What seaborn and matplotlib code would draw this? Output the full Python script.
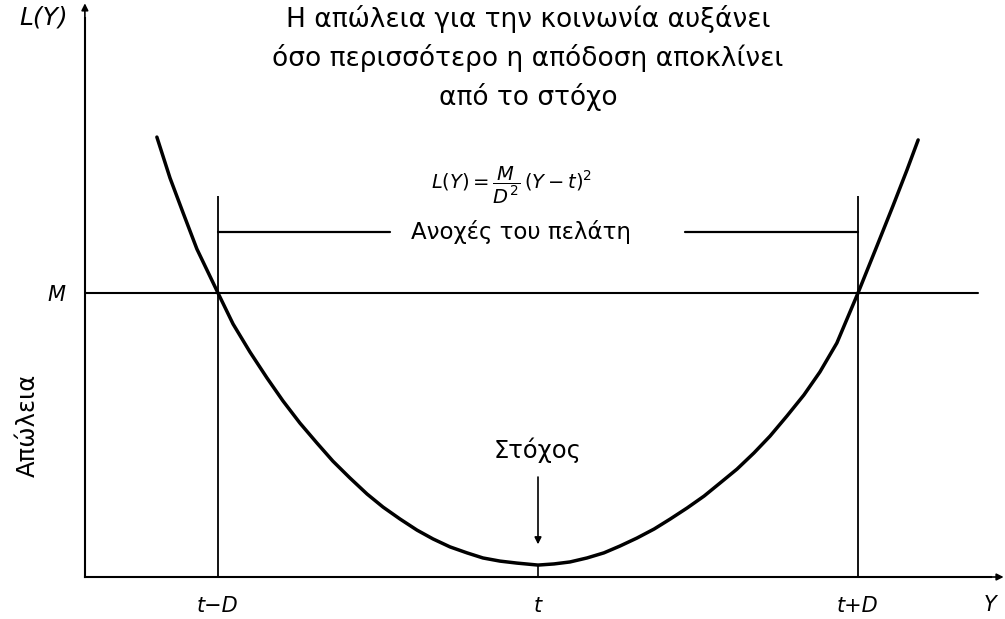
import numpy as np
import pandas as pd
import seaborn as sns
import matplotlib.pyplot as plt

# Quadratic loss curve, target t at 0 and tolerance half-width D = 1,
# loss expressed in units of M (the loss at the tolerance limits)
loss_Y = [-1.191, -1.150, -1.109, -1.066, -1.000, -0.953, -0.900, -0.847,
          -0.797, -0.744, -0.691, -0.641, -0.588, -0.534, -0.484, -0.431,
          -0.378, -0.328, -0.275, -0.222, -0.172, -0.119, -0.066, 0.000,
          0.050, 0.100, 0.153, 0.206, 0.256, 0.309, 0.363, 0.413,
          0.466, 0.519, 0.569, 0.622, 0.675, 0.725, 0.778, 0.831,
          0.881, 0.934, 1.000, 1.059, 1.109, 1.153, 1.188]
loss_L = [1.549, 1.405, 1.282, 1.155, 1.000, 0.891, 0.792, 0.701,
          0.620, 0.542, 0.472, 0.408, 0.349, 0.292, 0.246, 0.204,
          0.165, 0.134, 0.106, 0.085, 0.067, 0.056, 0.049, 0.042,
          0.046, 0.053, 0.067, 0.085, 0.109, 0.137, 0.169, 0.204,
          0.243, 0.285, 0.331, 0.380, 0.437, 0.496, 0.567, 0.641,
          0.722, 0.824, 1.000, 1.165, 1.306, 1.433, 1.539]

target = 0.0
half_tol = 1.0
M_level = 1.0
x_tick_pos = [target - half_tol, target, target + half_tol]
x_tick_labels = ["t\u2212D", "t", "t+D"]
y_tick_labels = ["M"]

title_lines = ["Η απώλεια για την κοινωνία αυξάνει",
               "όσο περισσότερο η απόδοση αποκλίνει",
               "από το στόχο"]
tolerance_label = "Ανοχές του πελάτη"
target_label = "Στόχος"
loss_label = "Απώλεια"

sns.set_theme(style="white")
plt.rcParams["font.family"] = ["DejaVu Sans"]
plt.rcParams["mathtext.fontset"] = "dejavusans"

fig = plt.figure(figsize=(10.05, 6.19), dpi=100)
ax = fig.add_axes([0, 0, 1, 1])
ax.set_facecolor("white")
fig.patch.set_facecolor("white")

# scale: one D = 320 px, one M = 284 px
ax.set_xlim(-538 / 320, 467 / 320)
ax.set_ylim(-42 / 284, 577 / 284)

df = pd.DataFrame({"Y": loss_Y, "L": loss_L})
sns.lineplot(data=df, x="Y", y="L", sort=False, color="black", lw=2.5,
             ax=ax, solid_capstyle="round", solid_joinstyle="round")

# axes drawn as arrows from the origin
x0 = -1.416
x_end = 1.445
y_top = 2.0
for side in ("top", "right"):
    ax.spines[side].set_visible(False)
ax.spines["left"].set_position(("data", x0))
ax.spines["left"].set_bounds(0, y_top - 0.03)
ax.spines["bottom"].set_position(("data", 0))
ax.spines["bottom"].set_bounds(x0, x_end - 0.03)
for sp in ("left", "bottom"):
    ax.spines[sp].set_color("black")
    ax.spines[sp].set_linewidth(1.5)
ax.annotate("", xy=(x0, y_top + 0.02), xytext=(x0, y_top - 0.05),
            arrowprops=dict(arrowstyle="-|>", color="black", lw=1.2,
                            mutation_scale=10, shrinkA=0, shrinkB=0))
ax.annotate("", xy=(x_end + 0.01, 0), xytext=(x_end - 0.06, 0),
            arrowprops=dict(arrowstyle="-|>", color="black", lw=1.2,
                            mutation_scale=10, shrinkA=0, shrinkB=0))

ax.set_xticks(x_tick_pos, x_tick_labels)
ax.set_yticks([M_level], y_tick_labels)
ax.tick_params(axis="x", length=0, pad=14, labelsize=15, colors="black")
ax.tick_params(axis="y", length=0, pad=14, labelsize=15, colors="black")
for lbl in ax.get_xticklabels() + ax.get_yticklabels():
    lbl.set_fontstyle("italic")
ax.set_xlabel("")
ax.set_ylabel("")
ax.grid(False)

# level M and the tolerance limits
ax.plot([x0, 1.375], [M_level, M_level], color="black", lw=1.5)
ax.vlines([target - half_tol, target + half_tol], 0, 1.34,
          color="black", lw=1.3)
tol_y = 1.215
ax.plot([target - half_tol, (390 - 538) / 320], [tol_y, tol_y],
        color="black", lw=1.6)
ax.plot([(685 - 538) / 320, target + half_tol], [tol_y, tol_y],
        color="black", lw=1.6)
ax.text((521 - 538) / 320, tol_y, tolerance_label, ha="center", va="center",
        fontsize=16.5, color="black")

# target marker
ax.vlines(target, 0, min(loss_L), color="black", lw=1.2)
ax.annotate("", xy=(target, 0.115), xytext=(target, 0.352),
            arrowprops=dict(arrowstyle="-|>", color="black", lw=1.2,
                            mutation_scale=10, shrinkA=0, shrinkB=0))
ax.text(target, 0.447, target_label, ha="center", va="center",
        fontsize=17.5, color="black")

# headline and formula
for i, line in enumerate(title_lines):
    ax.text((528 - 538) / 320, (577 - 19 - 39 * i) / 284, line,
            ha="center", va="center", fontsize=19, color="black")
ax.text((512 - 538) / 320, (577 - 185) / 284,
        r"$L(Y)=\dfrac{M}{D^2}\,(Y-t)^2$",
        ha="center", va="center", fontsize=14, color="black")

# axis labels
ax.text((44 - 538) / 320, (577 - 18) / 284, "L(Y)", ha="center",
        va="center", fontsize=18, fontstyle="italic", color="black")
ax.text((990 - 538) / 320, (577 - 605) / 284, "Y", ha="center",
        va="center", fontsize=15, fontstyle="italic", color="black")
ax.text((28 - 538) / 320, (577 - 425) / 284, loss_label, ha="center",
        va="center", rotation=90, fontsize=17.5, color="black")

fig.savefig("out.png", dpi=100, facecolor="white")
